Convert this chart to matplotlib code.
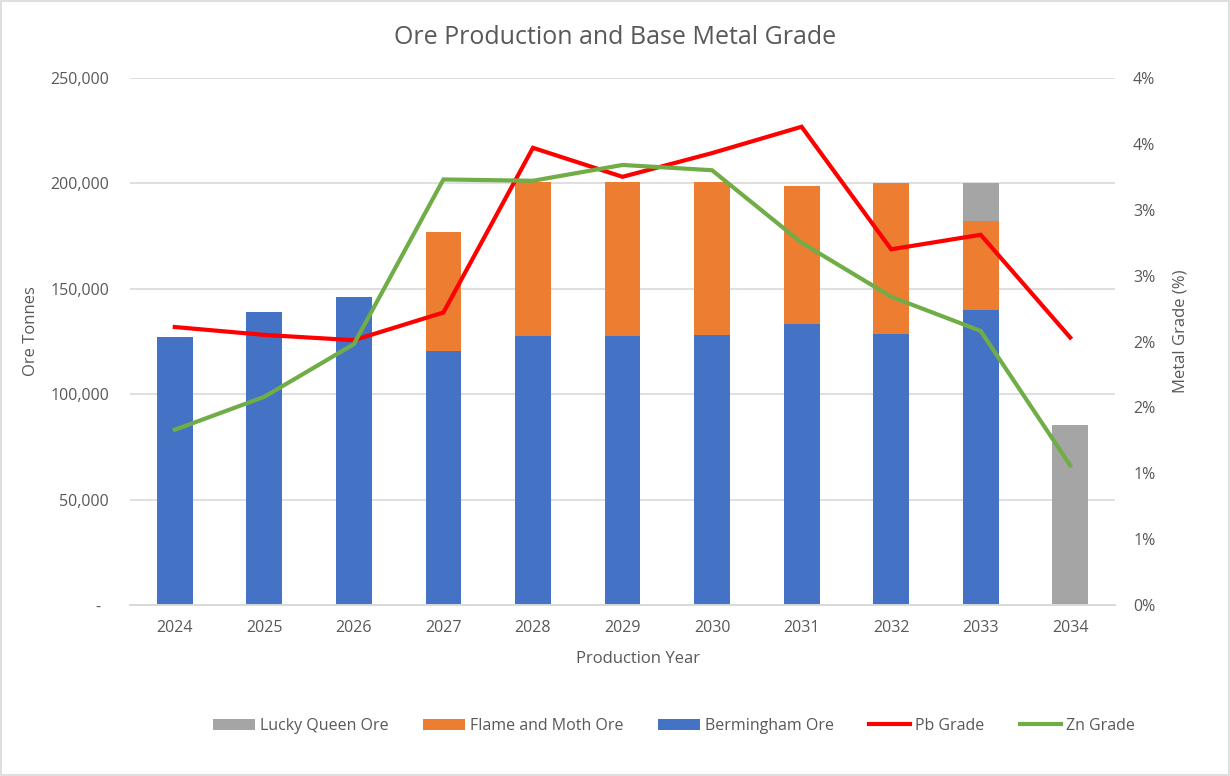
import math
import numpy as np
import matplotlib
matplotlib.use("Agg")
import matplotlib.pyplot as plt
from matplotlib.ticker import FuncFormatter, MultipleLocator

plt.rcParams['font.family'] = ['Open Sans', 'DejaVu Sans']

# data
years = ['2024', '2025', '2026', '2027', '2028', '2029', '2030', '2031', '2032', '2033', '2034']
bermingham = [127100, 139000, 146100, 120500, 127600, 127600, 128100, 133300, 128700, 140000, 0]
flame_moth = [0, 0, 0, 56450, 73200, 73100, 72600, 65500, 71500, 42300, 0]
lucky_queen = [0, 0, 0, 0, 0, 0, 0, 0, 0, 17900, 85400]
pb_grade = [2.11, 2.05, 2.01, 2.22, 3.47, 3.25, 3.43, 3.63, 2.70, 2.81, 2.03]
zn_grade = [1.33, 1.58, 1.98, 3.23, 3.22, 3.34, 3.30, 2.75, 2.34, 2.08, 1.06]

c_blue = '#4472C4'
c_orange = '#ED7D31'
c_gray = '#A5A5A5'
c_red = '#FF0000'
c_green = '#70AD47'
c_text = '#595959'
c_grid = '#D9D9D9'

fig = plt.figure(figsize=(12.3, 7.76), dpi=100)
ax = fig.add_axes([130/1230, 1 - 605/776, 985/1230, 527/776])
ax2 = ax.twinx()

x = np.arange(len(years))
w = 0.40
b1 = np.array(bermingham)
b2 = b1 + np.array(flame_moth)
bar_b = ax.bar(x, bermingham, w, color=c_blue, label='Bermingham Ore', zorder=2)
bar_f = ax.bar(x, flame_moth, w, bottom=b1, color=c_orange, label='Flame and Moth Ore', zorder=2)
bar_l = ax.bar(x, lucky_queen, w, bottom=b2, color=c_gray, label='Lucky Queen Ore', zorder=2)

ln_pb, = ax2.plot(x, pb_grade, color=c_red, lw=3, label='Pb Grade', solid_joinstyle='miter')
ln_zn, = ax2.plot(x, zn_grade, color=c_green, lw=3, label='Zn Grade', solid_joinstyle='miter')

ax.set_xlim(-0.5, len(years) - 0.5)
ax.set_ylim(0, 250000)
ax.yaxis.set_major_locator(MultipleLocator(50000))
ax.yaxis.set_major_formatter(FuncFormatter(lambda v, p: '-  ' if v == 0 else f'{int(v):,}'))
ax.grid(axis='y', color=c_grid, lw=1.2, zorder=0)
ax.set_axisbelow(True)

ax2.set_ylim(0, 4)
ax2.yaxis.set_major_locator(MultipleLocator(0.5))
ax2.yaxis.set_major_formatter(FuncFormatter(lambda v, p: f'{math.floor(v + 0.5)}%'))

ax.set_xticks(x)
ax.set_xticklabels(years)

for a in (ax, ax2):
    for s in ('top', 'left', 'right'):
        a.spines[s].set_visible(False)
    a.spines['bottom'].set_color(c_grid)
    a.spines['bottom'].set_linewidth(1.2)

ax.tick_params(axis='y', length=0, pad=15, labelsize=11.5, labelcolor=c_text)
ax.tick_params(axis='x', length=0, pad=11, labelsize=11.5, labelcolor=c_text)
ax2.tick_params(axis='y', length=0, pad=13, labelsize=11.5, labelcolor=c_text)

ax.set_ylabel('Ore Tonnes', fontsize=12, color=c_text)
ax.yaxis.set_label_coords(-0.092, 0.52)
ax2.set_ylabel('Metal Grade (%)', fontsize=12, color=c_text)
ax2.yaxis.set_label_coords(1.058, 0.52)
ax.set_xlabel('Production Year', fontsize=12, color=c_text)
ax.xaxis.set_label_coords(0.516, -0.088)

fig.text(0.5, 1 - 38/776, 'Ore Production and Base Metal Grade', ha='center', va='center',
         fontsize=18, color=c_text)

handles = [bar_l, bar_f, bar_b, ln_pb, ln_zn]
labels = [h.get_label() for h in handles]
leg = fig.legend(handles, labels, loc='center', bbox_to_anchor=(0.548, 1 - 726/776), ncol=5,
                 frameon=False, fontsize=11.5, handlelength=2.6, handleheight=0.7,
                 handletextpad=0.3, columnspacing=2.2)
for t in leg.get_texts():
    t.set_color(c_text)

# light border round the whole chart
fig.patches.append(plt.Rectangle((0.001, 0.001), 0.998, 0.998, transform=fig.transFigure,
                                 fill=False, edgecolor=c_grid, lw=1.2))

fig.savefig('out.png', dpi=100, facecolor='white')
